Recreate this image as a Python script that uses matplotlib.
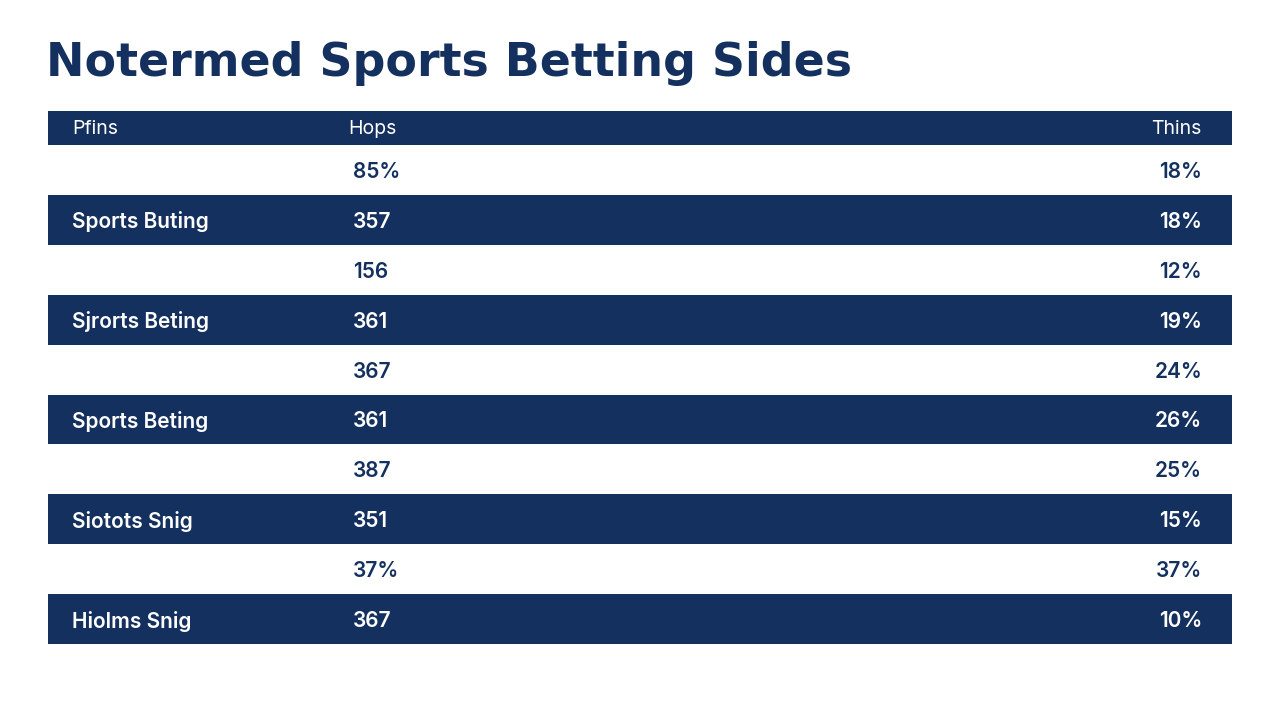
import matplotlib
matplotlib.use("Agg")
import matplotlib.pyplot as plt
from matplotlib.patches import Rectangle

title = "Notermed Sports Betting Sides"
headers = ["Pfins", "Hops", "Thins"]
col1 = ["", "Sports Buting", "", "Sjrorts Beting", "", "Sports Beting", "", "Siotots Snig", "", "Hiolms Snig"]
col2 = ["85%", "357", "156", "361", "367", "361", "387", "351", "37%", "367"]
col3 = ["18%", "18%", "12%", "19%", "24%", "26%", "25%", "15%", "37%", "10%"]

navy = "#14305f"
fam = ["Inter", "DejaVu Sans"]

fig = plt.figure(figsize=(12.8, 7.2), dpi=100)
ax = fig.add_axes([0, 0, 1, 1])
ax.set_xlim(0, 1280)
ax.set_ylim(720, 0)
ax.axis("off")

ax.text(46, 63, title, fontsize=33, fontweight="bold", color=navy, va="center", ha="left",
        family=["DejaVu Sans"])

left, right = 48, 1232
ax.add_patch(Rectangle((left, 111), right - left, 34, color=navy, lw=0))
ax.text(72, 129, headers[0], fontsize=14, color="white", va="center", family=fam)
ax.text(348, 129, headers[1], fontsize=14, color="white", va="center", family=fam)
ax.text(1202, 129, headers[2], fontsize=14, color="white", va="center", ha="right", family=fam)

top, h = 145, 49.9
for i in range(len(col2)):
    y0 = top + i * h
    dark = i % 2 == 1
    if dark:
        ax.add_patch(Rectangle((left, y0), right - left, h, color=navy, lw=0))
    c = "white" if dark else navy
    yc = y0 + h / 2 + 2
    ax.text(72, yc, col1[i], fontsize=15, fontweight="semibold", color=c, va="center", family=fam)
    ax.text(353, yc, col2[i], fontsize=15, fontweight="semibold", color=c, va="center", family=fam)
    ax.text(1202, yc, col3[i], fontsize=15, fontweight="semibold", color=c, va="center", ha="right", family=fam)

fig.savefig("out.png", dpi=100, facecolor="white")
